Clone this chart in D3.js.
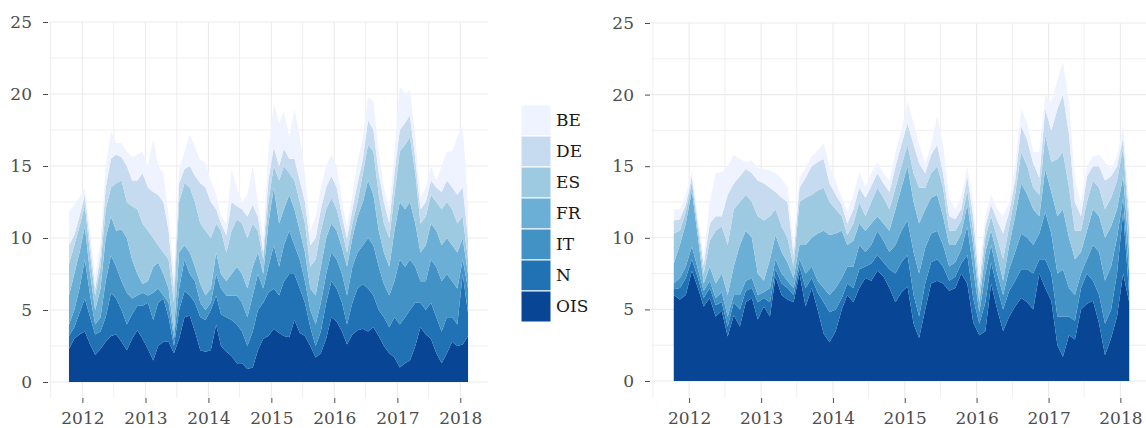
<!DOCTYPE html>
<html>
<head>
<meta charset="utf-8">
<script src="https://cdn.jsdelivr.net/npm/d3@7"></script>
<style>
    body { margin: 0; background: #fff; }
    .axis text { font-family: "DejaVu Serif", serif; font-size: 17px; fill: #4d4d4d; }
    .axis line { stroke: #4d4d4d; }
    .legend text { font-family: "DejaVu Serif", serif; font-size: 17px; fill: #1a1a1a; }
</style>
</head>
<body>
<div id="chart"></div>
<script>

// series, bottom to top
var keys = ["OIS", "N", "IT", "FR", "ES", "DE", "BE"];
var colors = ["#084594", "#2171b5", "#4292c6", "#6baed6", "#9ecae1", "#c6dbef", "#eff3ff"];
var yearTicks = [2012, 2013, 2014, 2015, 2016, 2017, 2018];
var yTicks = [0, 5, 10, 15, 20, 25];

// monthly observations, Oct 2011 .. Feb 2018
var months = d3.range(77).map(function(i) { return new Date(2011, 9 + i, 15); });

// left panel
var leftOIS = [2.3,3.0,3.3,3.5,2.6,1.9,2.3,2.8,3.2,3.3, 2.8,2.2,3.0,3.6,3.0,2.3,1.5,2.5,2.8,2.8, 2.0,3.0,4.5,4.6,3.5,2.2,2.1,2.2,4.0,2.5, 2.1,1.8,1.3,1.3,0.9,1.0,2.2,3.0,3.2,3.7, 3.4,3.2,3.1,4.3,3.4,3.2,2.5,1.7,2.0,3.0, 4.5,4.2,3.5,2.6,3.3,3.6,3.7,3.5,3.8,3.2, 2.5,2.0,1.7,1.0,1.3,1.5,2.5,3.8,3.3,3.0, 2.0,1.3,2.0,2.8,2.5,2.6,3.2];
var leftN   = [0.9,0.8,1.5,2.3,1.9,1.4,1.2,1.7,3.0,2.5, 2.2,1.8,1.7,1.7,2.3,3.2,2.8,3.0,3.0,1.7, 0.5,2.0,1.8,1.4,2.0,2.3,2.2,2.8,2.0,2.2, 2.4,2.5,2.7,2.2,1.6,2.5,2.8,2.5,3.0,2.8, 2.6,3.8,4.4,3.2,3.1,2.3,1.3,0.8,1.5,2.5, 2.5,2.3,2.0,1.4,2.2,2.9,3.1,3.0,2.2,1.8, 2.0,1.8,2.8,3.0,3.2,3.5,3.0,1.7,1.7,2.5, 2.5,2.2,2.5,1.7,1.5,4.9,1.6];
var leftIT  = [0.8,1.2,1.7,2.7,1.5,0.7,1.0,2.5,2.6,2.2, 2.0,2.2,1.1,0.7,0.9,0.5,1.9,1.0,0.2,1.0, 0.5,1.5,2.2,1.5,1.5,1.0,0.7,0.5,1.5,1.8, 1.5,1.7,2.0,2.0,2.0,2.5,2.5,1.0,1.8,3.0, 2.0,2.5,3.0,2.0,2.0,1.5,1.2,1.5,2.0,2.0, 2.0,2.0,2.0,2.0,2.5,2.5,2.7,3.5,3.5,3.0, 2.3,2.2,2.5,4.5,3.5,3.5,2.5,1.5,2.0,3.0, 3.5,3.5,3.0,2.5,2.5,1.0,1.7];
var leftFR  = [2.0,2.5,2.5,2.3,1.5,1.0,2.0,3.0,2.7,2.5, 3.6,3.8,2.7,1.5,0.6,1.0,1.8,1.8,1.5,1.0, 0.5,2.5,1.0,1.5,1.0,1.3,1.0,1.0,1.5,1.0, 1.0,1.5,2.0,2.0,2.0,2.0,1.5,1.0,3.0,4.0, 3.0,2.5,2.5,2.5,2.0,2.0,1.5,2.0,2.5,2.5, 2.0,2.0,1.8,2.0,2.0,2.5,3.0,4.0,3.5,2.5, 2.2,2.0,3.5,4.0,4.0,4.0,3.0,2.0,2.5,2.5, 2.5,2.5,2.5,2.5,2.5,1.5,1.0];
var leftES  = [2.2,2.0,1.8,1.5,1.3,1.0,1.5,2.0,2.0,3.3, 3.4,2.5,3.7,4.5,4.2,3.5,2.0,1.2,1.5,2.0, 2.0,3.5,4.3,4.5,4.5,4.2,4.5,3.5,2.0,3.0, 2.0,3.0,3.3,3.5,3.5,3.0,1.5,1.0,1.5,1.5, 3.0,3.0,1.5,2.0,2.0,2.0,1.5,2.5,2.5,2.0, 1.8,1.5,1.2,1.0,1.0,1.0,2.0,2.5,3.0,2.5, 2.0,2.0,2.5,3.5,4.5,4.5,3.5,2.0,2.0,2.0, 2.0,2.5,2.5,2.5,2.0,1.5,1.0];
var leftDE  = [1.3,0.7,0.7,0.7,0.8,0.5,0.8,1.5,2.0,2.0, 1.6,2.5,1.8,2.0,3.5,3.0,3.2,3.5,3.5,2.0, 1.0,1.3,1.0,1.5,1.8,2.8,3.0,2.5,1.0,0.5, 1.2,2.0,0.9,1.0,1.5,1.3,1.0,0.5,1.5,1.3, 1.0,1.2,1.0,1.5,1.5,1.5,1.5,1.5,1.5,1.5, 1.5,1.5,1.0,1.0,1.0,1.3,1.0,1.7,1.5,1.5, 1.5,1.0,1.5,1.5,1.5,1.5,1.0,1.0,1.0,1.0, 1.0,1.2,1.5,1.5,2.0,2.0,1.5];
var leftBE  = [2.3,2.1,1.3,0.5,0.9,0.8,1.0,1.5,1.9,0.8, 1.0,1.0,1.6,1.8,1.5,1.5,3.7,2.0,2.0,1.0, 1.0,1.0,1.2,2.2,2.0,1.6,1.7,1.5,1.0,0.5, 0.8,2.3,1.3,0.5,1.5,2.7,1.0,1.0,2.0,3.0, 3.0,2.6,1.5,3.5,3.0,2.0,1.0,1.5,1.5,1.5, 1.5,1.5,1.0,0.8,1.0,1.5,1.5,1.6,2.0,1.5, 1.0,1.0,1.5,3.0,2.0,1.8,1.5,0.8,1.0,1.0, 0.5,1.8,2.0,2.5,4.0,4.3,2.3];

// right panel
var rightOIS = [6.0,5.7,6.0,7.7,6.5,5.2,5.8,4.5,4.9,3.1, 4.6,3.8,5.5,5.8,4.3,5.2,4.5,7.3,6.0,5.7, 5.5,7.5,5.2,6.5,5.0,3.3,2.7,3.5,5.0,6.0, 5.5,6.5,7.2,7.0,7.7,7.3,6.5,5.5,6.2,6.6, 4.0,3.0,5.0,6.8,7.0,6.8,6.3,6.5,7.5,6.8, 4.1,3.2,3.5,6.8,5.0,3.5,4.5,5.2,5.8,5.5, 5.0,7.5,6.5,5.6,2.5,1.7,3.2,2.9,5.0,5.4, 5.6,4.0,1.8,3.0,4.5,7.5,5.5];
var rightN   = [0.4,0.8,1.2,0.8,0.7,0.6,0.7,0.8,0.6,0.7, 0.9,1.2,0.8,0.7,1.2,0.6,1.0,0.5,0.8,0.8, 0.5,0.5,1.3,0.7,1.2,2.2,2.1,1.5,0.8,0.8, 1.0,1.3,0.8,1.2,1.1,1.0,1.3,2.0,2.1,2.2, 2.0,1.5,1.8,1.5,1.5,1.2,0.7,0.8,0.7,2.0, 1.7,0.8,2.0,1.5,1.5,1.5,1.8,1.8,2.0,2.3, 2.5,1.0,2.0,1.9,2.0,2.8,1.3,1.3,1.5,2.1, 1.4,2.0,2.2,2.0,3.0,4.3,0.5];
var rightIT  = [0.4,0.7,0.8,0.9,0.6,0.5,0.5,0.5,0.7,0.7, 0.5,1.0,0.7,0.7,0.5,0.4,1.0,0.7,0.7,0.5, 0.5,0.5,1.0,0.8,0.8,1.0,1.2,1.5,1.4,1.2, 1.5,1.7,1.0,1.3,1.7,1.5,1.2,2.0,2.2,2.4, 3.0,3.0,2.5,2.0,2.0,1.5,1.0,1.0,1.0,2.0, 2.0,0.8,2.0,1.2,1.0,1.0,1.5,2.0,2.5,2.2, 2.0,1.8,3.3,2.8,3.0,3.3,2.0,1.8,1.0,1.0, 2.5,3.0,3.0,3.0,2.5,1.0,1.5];
var rightFR  = [1.4,2.3,3.0,3.9,2.2,0.5,1.0,1.0,1.3,1.5, 2.0,3.5,3.5,2.8,1.5,0.8,2.0,1.7,1.5,1.3, 0.7,1.0,2.0,2.0,3.3,4.0,4.2,3.8,3.3,1.5, 1.8,1.5,1.5,1.5,1.0,1.2,1.5,2.5,3.0,3.8, 3.5,3.5,2.7,2.5,2.5,2.0,1.5,1.2,1.1,1.5, 1.7,0.7,1.5,1.0,1.3,1.0,1.7,2.5,3.5,3.0, 2.5,1.2,3.0,2.9,4.0,4.2,3.5,2.5,1.5,2.0, 2.5,2.5,3.0,2.8,2.0,1.5,1.5];
var rightES  = [2.1,1.0,0.8,0.6,0.6,0.7,1.8,3.7,3.3,3.5, 4.0,3.0,2.5,2.5,4.0,4.2,3.0,1.8,1.8,1.7, 0.8,3.0,3.3,3.0,3.0,3.0,2.3,1.7,1.0,0.7, 1.2,1.5,1.0,1.5,2.0,1.8,1.5,1.5,1.5,1.5, 2.0,2.5,1.5,1.7,2.0,2.0,1.0,1.0,0.9,1.0, 1.0,0.7,1.0,1.0,1.2,1.5,1.3,1.5,2.2,2.0, 1.5,1.5,2.4,2.1,4.0,4.0,3.5,2.0,1.5,2.0, 2.0,2.0,2.0,2.0,2.0,2.0,1.5];
var rightDE  = [0.9,0.8,0.5,0.4,0.4,0.6,1.2,1.0,0.7,3.5, 1.8,1.8,1.8,2.0,2.5,2.6,2.0,1.2,2.0,2.5, 0.8,1.0,1.4,2.0,2.0,2.0,1.3,1.0,0.8,0.8, 1.0,1.0,1.3,1.1,1.0,1.0,1.2,1.5,1.5,1.5, 2.0,1.7,1.0,1.3,1.5,1.0,1.0,0.8,0.8,1.0, 1.0,0.7,0.8,0.8,1.2,1.8,1.0,1.0,1.8,1.8, 1.7,1.2,1.8,2.2,3.5,4.0,3.7,2.0,1.0,1.8, 1.0,1.5,2.0,1.5,1.0,0.7,1.0];
var rightBE  = [0.8,0.7,0.7,0.4,0.5,0.6,1.5,3.0,3.1,2.0, 2.0,1.2,0.5,0.9,0.9,1.0,1.2,1.3,1.3,1.1, 0.7,0.7,0.7,0.7,0.8,1.1,1.2,1.0,0.5,0.8, 1.0,1.1,0.8,0.9,0.8,0.7,0.8,1.0,1.0,1.5, 1.5,1.3,0.7,0.7,2.0,2.0,1.3,0.7,0.8,0.7, 1.0,1.1,0.7,0.7,0.8,1.2,0.7,1.0,1.2,1.2, 0.8,1.8,1.0,2.0,2.0,2.3,2.3,1.5,1.0,0.7, 0.7,0.8,1.3,0.5,0.7,0.8,0.8];

function toRows(cols) {
    return months.map(function(m, i) {
        var row = { date: m };
        keys.forEach(function(k, j) { row[k] = cols[j][i]; });
        return row;
    });
}

var leftData = toRows([leftOIS, leftN, leftIT, leftFR, leftES, leftDE, leftBE]);
var rightData = toRows([rightOIS, rightN, rightIT, rightFR, rightES, rightDE, rightBE]);

var svg = d3.select("#chart").append("svg")
    .attr("width", 1146)
    .attr("height", 428);

var color = d3.scaleOrdinal().domain(keys).range(colors);

function drawPanel(data, p) {
    var g = svg.append("g");

    var t0 = months[0], t1 = months[months.length - 1];
    var pad = (t1 - t0) * 0.05;
    var x = d3.scaleTime()
        .domain([new Date(+t0 - pad), new Date(+t1 + pad)])
        .range([p.left, p.right]);
    var y = d3.scaleLinear()
        .domain([0, 25])
        .range([p.zero, p.top]);

    // grid
    var clip = "clip-" + p.left;
    g.append("clipPath").attr("id", clip).append("rect")
        .attr("x", p.left).attr("y", p.top - 1)
        .attr("width", p.right - p.left).attr("height", p.bottom - p.top + 2);

    var grid = g.append("g").attr("clip-path", "url(#" + clip + ")");
    grid.selectAll(".hgrid")
        .data(d3.range(0, 25.01, 2.5))
        .enter().append("line")
        .attr("x1", p.left).attr("x2", p.right)
        .attr("y1", function(d) { return y(d); })
        .attr("y2", function(d) { return y(d); })
        .attr("stroke", "#ebebeb")
        .attr("stroke-width", function(d) { return d % 5 === 0 ? 1.1 : 0.8; });

    var vlines = [];
    for (var yr = 2011; yr <= 2018; yr++) {
        vlines.push({ d: new Date(yr, 6, 1), major: false });
        if (yr > 2011) vlines.push({ d: new Date(yr, 0, 1), major: true });
    }
    grid.selectAll(".vgrid")
        .data(vlines)
        .enter().append("line")
        .attr("x1", function(d) { return x(d.d); })
        .attr("x2", function(d) { return x(d.d); })
        .attr("y1", p.top).attr("y2", p.bottom)
        .attr("stroke", "#ebebeb")
        .attr("stroke-width", function(d) { return d.major ? 1.1 : 0.8; });

    // stacked areas
    var series = d3.stack().keys(keys)(data);
    var area = d3.area()
        .x(function(d) { return x(d.data.date); })
        .y0(function(d) { return y(d[0]); })
        .y1(function(d) { return y(d[1]); });

    g.selectAll(".layer")
        .data(series)
        .enter().append("path")
        .attr("class", "layer")
        .attr("fill", function(d) { return color(d.key); })
        .attr("d", area);

    // axes
    var yAxis = d3.axisLeft(y).tickValues(yTicks).tickSize(5).tickPadding(11);
    g.append("g")
        .attr("class", "axis")
        .attr("transform", "translate(" + (p.left - 1) + ",0)")
        .call(yAxis)
        .call(function(a) { a.select(".domain").remove(); });

    var xAxis = d3.axisBottom(x)
        .tickValues(yearTicks.map(function(v) { return new Date(v, 0, 1); }))
        .tickFormat(d3.timeFormat("%Y"))
        .tickSize(5).tickPadding(9);
    g.append("g")
        .attr("class", "axis")
        .attr("transform", "translate(0," + p.bottom + ")")
        .call(xAxis)
        .call(function(a) { a.select(".domain").remove(); });
}

drawPanel(leftData, { left: 49, right: 488, top: 22, zero: 382, bottom: 398 });
drawPanel(rightData, { left: 651, right: 1152, top: 23, zero: 381, bottom: 398 });

// legend, BE on top
var legend = svg.append("g").attr("class", "legend");
var legendKeys = keys.slice().reverse();
legend.selectAll("rect")
    .data(legendKeys)
    .enter().append("rect")
    .attr("x", 521)
    .attr("y", function(d, i) { return 105 + i * 31; })
    .attr("width", 30)
    .attr("height", 31)
    .attr("fill", function(d) { return color(d); })
    .attr("stroke", "#fff")
    .attr("stroke-width", 1);
legend.selectAll("text")
    .data(legendKeys)
    .enter().append("text")
    .attr("x", 556)
    .attr("y", function(d, i) { return 105 + i * 31 + 15.5; })
    .attr("dy", "0.35em")
    .text(function(d) { return d; });

</script>
</body>
</html>
